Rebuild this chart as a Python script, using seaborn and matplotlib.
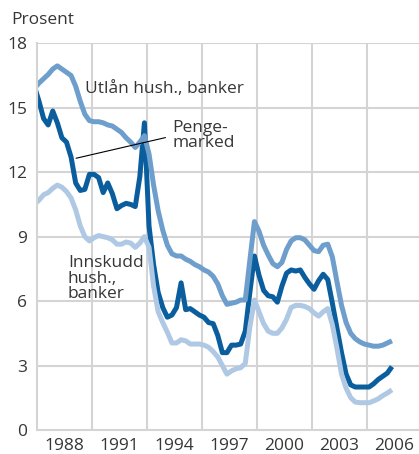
import numpy as np
import pandas as pd
import matplotlib
matplotlib.use("Agg")
import matplotlib.pyplot as plt
import seaborn as sns

# Kvartalstall, plassert midt i kvartalet (første punkt 4. kv. 1986)
kvartal = 1986.875 + 0.25 * np.arange(79)

utlan = [15.9,
         16.15, 16.35, 16.55, 16.8,
         16.95, 16.8, 16.65, 16.5,
         16.0, 15.3, 14.7, 14.4,
         14.35, 14.35, 14.3, 14.2,
         14.15, 14.0, 13.85, 13.6,
         13.4, 13.15, 13.4, 13.7,
         12.85, 11.4, 10.2, 9.3,
         8.6, 8.2, 8.1, 8.1,
         7.95, 7.85, 7.7, 7.6,
         7.45, 7.35, 7.15, 6.8,
         6.25, 5.85, 5.9, 5.95,
         6.05, 6.05, 7.9, 9.7,
         9.25, 8.6, 8.15, 7.75,
         7.6, 7.8, 8.4, 8.8,
         8.95, 8.95, 8.85, 8.6,
         8.35, 8.3, 8.6, 8.65,
         8.05, 6.9, 5.8, 5.0,
         4.5, 4.25, 4.1, 4.0,
         3.95, 3.9, 3.9, 3.95,
         4.05, 4.15]

pengemarked = [16.0,
               15.3, 14.5, 14.2, 14.85,
               14.3, 13.6, 13.4, 12.7,
               11.5, 11.15, 11.2, 11.9,
               11.9, 11.75, 11.05, 11.5,
               11.0, 10.3, 10.45, 10.55,
               10.5, 10.4, 11.8, 14.3,
               9.5, 7.7, 6.4, 5.7,
               5.25, 5.35, 5.7, 6.85,
               5.6, 5.65, 5.5, 5.35,
               5.25, 5.0, 4.95, 4.4,
               3.6, 3.6, 3.95, 3.95,
               4.0, 4.6, 6.4, 8.1,
               7.2, 6.5, 6.25, 6.2,
               5.95, 6.7, 7.3, 7.45,
               7.4, 7.45, 7.1, 6.8,
               6.55, 6.95, 7.25, 7.0,
               5.9, 4.75, 3.6, 2.6,
               2.1, 2.0, 2.0, 2.0,
               2.0, 2.15, 2.35, 2.5,
               2.65, 2.95]

innskudd = [10.5,
            10.7, 10.95, 11.05, 11.25,
            11.4, 11.3, 11.1, 10.8,
            10.25, 9.5, 9.0, 8.8,
            8.95, 9.05, 9.0, 8.95,
            8.85, 8.65, 8.65, 8.75,
            8.7, 8.5, 8.7, 9.0,
            8.5, 6.7, 5.5, 5.0,
            4.55, 4.05, 4.05, 4.2,
            4.15, 4.0, 4.0, 4.0,
            3.95, 3.85, 3.65, 3.4,
            3.0, 2.6, 2.75, 2.85,
            2.9, 3.1, 4.8, 6.05,
            5.5, 4.95, 4.6, 4.5,
            4.5, 4.75, 5.15, 5.7,
            5.8, 5.8, 5.75, 5.65,
            5.45, 5.3, 5.5, 5.65,
            4.9, 3.8, 2.6, 1.95,
            1.5, 1.3, 1.27, 1.27,
            1.27, 1.35, 1.45, 1.6,
            1.72, 1.87]

serier = ["Pengemarked", "Utlån", "Innskudd"]
farger = {"Pengemarked": "#0b5e9e", "Utlån": "#6e9ecb", "Innskudd": "#afc8e4"}

df = pd.DataFrame({
    "tid": np.tile(kvartal, 3),
    "rente": pengemarked + utlan + innskudd,
    "serie": np.repeat(serier, len(kvartal)),
})

sns.set_theme(style="white")
plt.rcParams["font.family"] = ["Open Sans", "DejaVu Sans"]
tekst = "#363636"
grid = "#d4d4d4"
fs = 12.5

fig = plt.figure(figsize=(4.19, 4.54), dpi=100)
ax = fig.add_axes([0.0876, 0.0529, 0.9124, 0.8517])

for x in [1990, 1993, 1996, 1999, 2002, 2005]:
    ax.axvline(x, color=grid, lw=1.5, zorder=0)
for y in [3, 6, 9, 12, 15, 18]:
    ax.axhline(y, color=grid, lw=1.5, zorder=0)

sns.lineplot(data=df, x="tid", y="rente", hue="serie", hue_order=serier,
             palette=farger, lw=3.6, legend=False, ax=ax,
             solid_joinstyle="round", solid_capstyle="butt")

ax.set_xlim(1987, 2007.85)
ax.set_ylim(0, 18)
ax.set_xlabel("")
ax.set_ylabel("")

ax.set_yticks([0, 3, 6, 9, 12, 15, 18])
ax.set_xticks([1988.5, 1991.5, 1994.5, 1997.5, 2000.5, 2003.5, 2006.5])
ax.set_xticklabels(["1988", "1991", "1994", "1997", "2000", "2003", "2006"])
ax.set_xticks(np.arange(1988, 2008), minor=True)
ax.tick_params(axis="x", which="major", length=0, pad=6, labelsize=fs, colors=tekst)
ax.tick_params(axis="x", which="minor", length=7, width=1.5, direction="in", color=grid)
ax.tick_params(axis="y", length=0, pad=7, labelsize=fs, colors=tekst)

for side in ["top", "right"]:
    ax.spines[side].set_visible(False)
for side in ["left", "bottom"]:
    ax.spines[side].set_color(grid)
    ax.spines[side].set_linewidth(1.5)

ax.text(1989.65, 15.85, "Utlån hush., banker", fontsize=fs, color=tekst,
        ha="left", va="center")
ax.text(1994.4, 13.7, "Penge-\nmarked", fontsize=fs, color=tekst,
        ha="left", va="center", linespacing=0.95)
ax.text(1988.7, 7.05, "Innskudd\nhush.,\nbanker", fontsize=fs, color=tekst,
        ha="left", va="center", linespacing=0.95)
ax.annotate("", xy=(1989.0, 12.62), xytext=(1994.17, 13.64),
            arrowprops=dict(arrowstyle="-", color="black", lw=0.8))

fig.text(0.028, 0.956, "Prosent", fontsize=fs, color=tekst, ha="left", va="center")

fig.savefig("out.png", dpi=100)
